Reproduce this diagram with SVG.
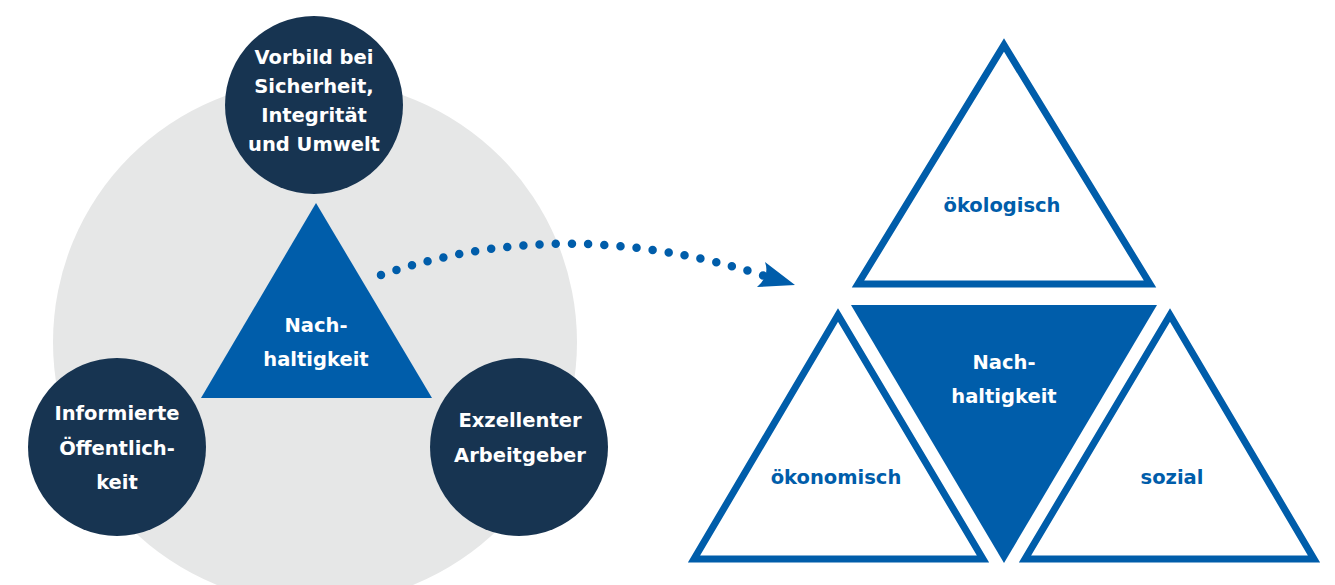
<svg xmlns="http://www.w3.org/2000/svg" width="1335" height="585" viewBox="0 0 1335 585">
  <style>
    .lbl { font-family: "DejaVu Sans", "Liberation Sans", sans-serif; font-weight: bold; font-size: 19.5px; text-anchor: middle; }
    .white { fill: #ffffff; }
    .blue { fill: #005DAA; }
    .disc { fill: #173451; }
    .outline { fill: #ffffff; stroke: #005DAA; stroke-width: 7; stroke-linejoin: miter; }
  </style>
  <defs>
    <marker id="arrowhead" viewBox="0 0 40 30" refX="8" refY="15" markerWidth="40" markerHeight="30" markerUnits="userSpaceOnUse" orient="auto">
      <path d="M0,0 L38,15 L0,30 Q10,15 0,0 Z" fill="#005DAA"/>
    </marker>
  </defs>
  <rect width="1335" height="585" fill="#ffffff"/>

  <!-- left: company values around sustainability -->
  <g id="backdrop">
    <circle cx="315" cy="342" r="262" fill="#E6E7E7"/>
  </g>
  <g id="core-left">
    <polygon points="316,203 432,398 201,398" fill="#005DAA"/>
    <text class="lbl white" x="316" y="332">Nach-</text>
    <text class="lbl white" x="316" y="366">haltigkeit</text>
  </g>
  <g id="value-top">
    <circle class="disc" cx="314" cy="105" r="89"/>
    <text class="lbl white" x="314" y="64">Vorbild bei</text>
    <text class="lbl white" x="314" y="93">Sicherheit,</text>
    <text class="lbl white" x="314" y="122">Integrität</text>
    <text class="lbl white" x="314" y="151">und Umwelt</text>
  </g>
  <g id="value-left">
    <circle class="disc" cx="117" cy="447" r="89"/>
    <text class="lbl white" x="117" y="420">Informierte</text>
    <text class="lbl white" x="117" y="455">Öffentlich-</text>
    <text class="lbl white" x="117" y="489">keit</text>
  </g>
  <g id="value-right">
    <circle class="disc" cx="519" cy="447" r="89"/>
    <text class="lbl white" x="520" y="427">Exzellenter</text>
    <text class="lbl white" x="520" y="462">Arbeitgeber</text>
  </g>

  <!-- connector -->
  <g id="connectors">
    <path d="M381,275 Q565,212 765,276" fill="none" stroke="#005DAA" stroke-width="8.5" stroke-linecap="round" stroke-dasharray="0 16.2"/>
    <path d="M765,262 L795,285 L757,287 Q770,276 765,262 Z" fill="#005DAA"/>
  </g>

  <!-- right: three pillars of sustainability -->
  <g id="pillar-ecology">
    <polygon class="outline" points="1004,45 1150,284 858,284"/>
    <text class="lbl blue" x="1002" y="212">ökologisch</text>
  </g>
  <g id="core-right">
    <polygon points="851,305 1157,305 1004,563" fill="#005DAA"/>
    <text class="lbl white" x="1004" y="369">Nach-</text>
    <text class="lbl white" x="1004" y="403">haltigkeit</text>
  </g>
  <g id="pillar-economy">
    <polygon class="outline" points="838,315 983,559 694,559"/>
    <text class="lbl blue" x="836" y="484">ökonomisch</text>
  </g>
  <g id="pillar-social">
    <polygon class="outline" points="1170,315 1314,559 1025,559"/>
    <text class="lbl blue" x="1172" y="484">sozial</text>
  </g>
</svg>
